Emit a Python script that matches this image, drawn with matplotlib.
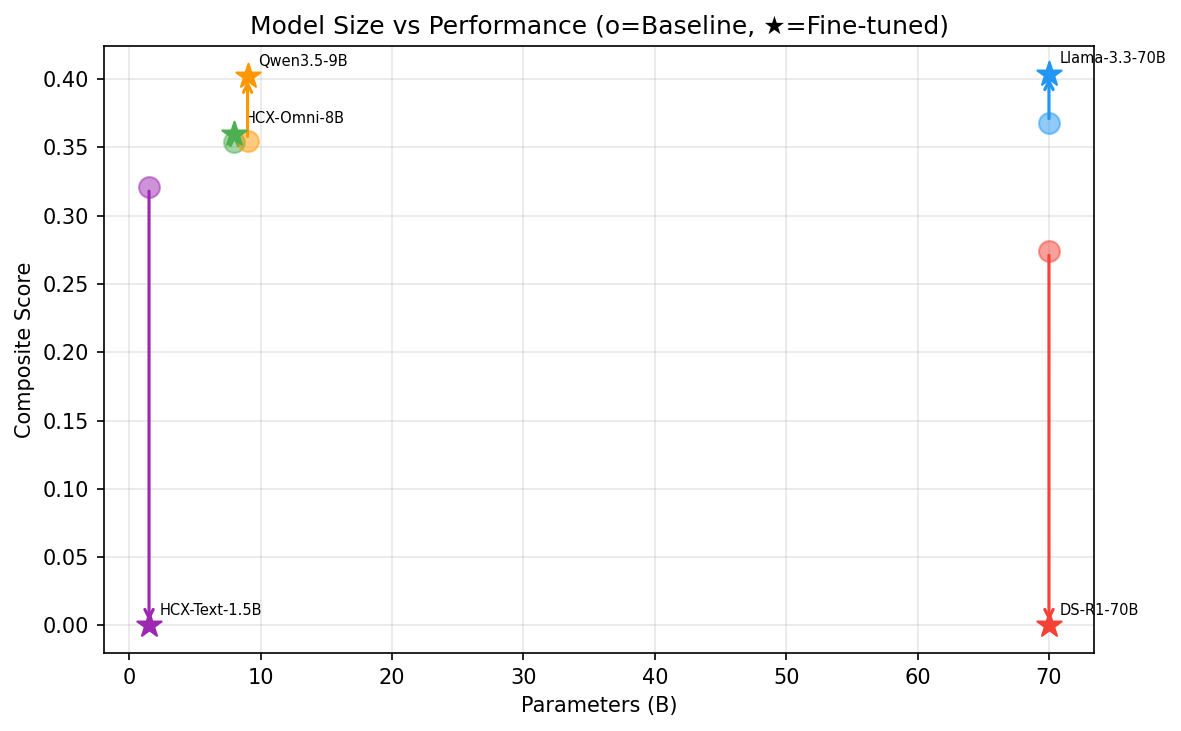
import matplotlib
matplotlib.use('Agg')
import matplotlib.pyplot as plt

# model data
models = ['HCX-Text-1.5B', 'HCX-Omni-8B', 'Qwen3.5-9B', 'Llama-3.3-70B', 'DS-R1-70B']
params = [1.5, 8, 9, 70, 70]
baseline = [0.321, 0.354, 0.355, 0.368, 0.274]
finetuned = [0.0, 0.360, 0.402, 0.404, 0.0]
colors = ['#9C27B0', '#4CAF50', '#FF9800', '#2196F3', '#F44336']

fig, ax = plt.subplots(figsize=(1181/150, 731/150), dpi=150)
fig.subplots_adjust(left=0.0881, right=0.9263, top=0.937, bottom=0.1067)

for m, p, b, f, c in zip(models, params, baseline, finetuned, colors):
    ax.scatter(p, b, s=100, color=c, alpha=0.5, marker='o', zorder=3)
    ax.scatter(p, f, s=150, color=c, marker='*', zorder=4)
    ax.annotate('', xy=(p, f), xytext=(p, b),
                arrowprops=dict(arrowstyle='->', color=c, lw=1.5))
    ax.annotate(m, (p, f), xytext=(5, 5), textcoords='offset points', fontsize=7)

ax.set_xlabel('Parameters (B)')
ax.set_ylabel('Composite Score')
ax.set_title('Model Size vs Performance (o=Baseline, \u2605=Fine-tuned)')
ax.grid(True, alpha=0.3)

plt.savefig('out.png', dpi=150)
plt.close()
